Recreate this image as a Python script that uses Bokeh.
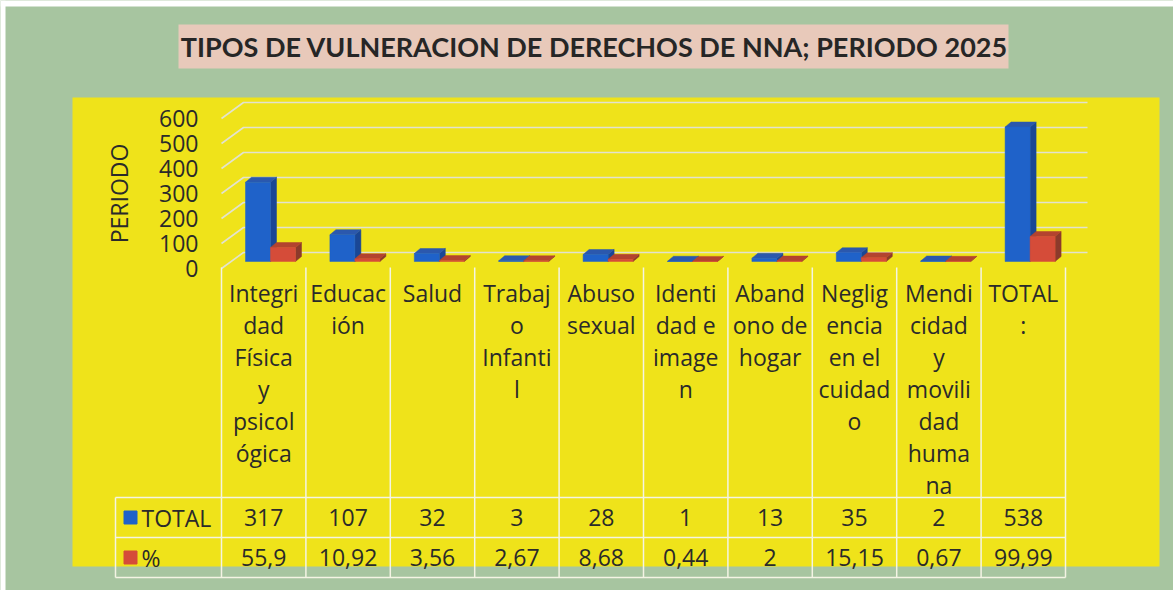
import math
from bokeh.plotting import figure
from bokeh.models import Range1d, BoxAnnotation, Label
from bokeh.core.properties import value
from bokeh.embed import file_html
from bokeh.resources import INLINE

# ---------------- DATA ----------------
title_text = "TIPOS DE VULNERACION DE DERECHOS DE NNA; PERIODO 2025"
y_axis_label = "PERIODO"
categories = [
    "Integri\ndad\nFísica\ny\npsicol\nógica",
    "Educac\nión",
    "Salud",
    "Trabaj\no\nInfanti\nl",
    "Abuso\nsexual",
    "Identi\ndad e\nimage\nn",
    "Aband\nono de\nhogar",
    "Neglig\nencia\nen el\ncuidad\no",
    "Mendi\ncidad\ny\nmovili\ndad\nhuma\nna",
    "TOTAL\n:",
]
series_names = ["TOTAL", "%"]
total_values = [317, 107, 32, 3, 28, 1, 13, 35, 2, 538]
pct_values = [55.9, 10.92, 3.56, 2.67, 8.68, 0.44, 2, 15.15, 0.67, 99.99]
total_labels = ["317", "107", "32", "3", "28", "1", "13", "35", "2", "538"]
pct_labels = ["55,9", "10,92", "3,56", "2,67", "8,68", "0,44", "2", "15,15", "0,67", "99,99"]
y_ticks = [0, 100, 200, 300, 400, 500, 600]

# ---------------- LAYOUT / STYLE ----------------
W, H = 1173, 590
COL0_PX = 221.0        # pixel of first category column edge
COL_W = 84.4           # pixel width of a category column
ZERO_PX = 261.0        # pixel of value 0 (bar mid plane)
PX_PER_UNIT = 0.25
FRONT_OFF = -7 / PX_PER_UNIT
BACK_OFF = 9 / PX_PER_UNIT
BACK_DX = 22 / COL_W
BAR_OFF = [24 / COL_W, 49 / COL_W]
BAR_W = 25 / COL_W
DX = 6 / COL_W
DY = 5 / PX_PER_UNIT

GREEN = "#a7c5a0"
YELLOW = "#efe31a"
PINK = "#e8c9ba"
GRID = "#e2e2cf"
TXT = "#2a2a2a"
FONT = "Open Sans"
FS = "23px"
FRONT = ["#1f62c9", "#d54c39"]
SIDE = ["#1a4795", "#8c3a2b"]
TOP = ["#2b58ad", "#b3432f"]

n = len(categories)
x_start = -COL0_PX / COL_W
x_end = (W - COL0_PX) / COL_W
y_end = ZERO_PX / PX_PER_UNIT
y_start = y_end - H / PX_PER_UNIT

p = figure(width=W, height=H, output_backend="svg", toolbar_location=None,
           x_range=Range1d(x_start, x_end), y_range=Range1d(y_start, y_end),
           x_axis_type=None, y_axis_type=None, min_border=0,
           background_fill_color=GREEN, border_fill_color=GREEN,
           outline_line_color=None)
p.grid.visible = False
p.extra_x_ranges = {"px": Range1d(0, W)}
p.extra_y_ranges = {"px": Range1d(H, 0)}

# white scan edge, yellow chart panel and title box
p.add_layout(BoxAnnotation(left=0, right=W, top=0, bottom=6,
                           x_range_name="px", y_range_name="px",
                           fill_color="white", fill_alpha=1, line_color=None, level="underlay"))
p.add_layout(BoxAnnotation(left=0, right=5, top=0, bottom=H,
                           x_range_name="px", y_range_name="px",
                           fill_color="white", fill_alpha=1, line_color=None, level="underlay"))
p.add_layout(BoxAnnotation(left=72, right=1159, top=97, bottom=566,
                           x_range_name="px", y_range_name="px",
                           fill_color=YELLOW, fill_alpha=1, line_color=None, level="underlay"))
p.add_layout(BoxAnnotation(left=178, right=1008, top=24, bottom=68,
                           x_range_name="px", y_range_name="px",
                           fill_color=PINK, fill_alpha=1, line_color=None, level="underlay"))
p.add_layout(Label(x=594, y=46, x_units="data", y_units="data",
                   x_range_name="px", y_range_name="px", text=title_text,
                   text_align="center", text_baseline="middle",
                   text_font="Lato", text_font_style="bold", text_font_size="27px",
                   text_color="#262626"))

# gridlines (3D wall)
gx, gy = [], []
for v in y_ticks:
    gx.append([0, BACK_DX, n + BACK_DX])
    gy.append([v + FRONT_OFF, v + BACK_OFF, v + BACK_OFF])
p.multi_line(gx, gy, line_color=GRID, line_width=1.6)

# y tick labels
p.text(x=[-23 / COL_W] * len(y_ticks), y=[v + FRONT_OFF for v in y_ticks],
       text=[str(v) for v in y_ticks], text_align="right", text_baseline="middle",
       text_font=value(FONT), text_font_size=FS, text_color=TXT)
# y axis title
p.text(x=[118], y=[193], text=[y_axis_label], angle=math.pi / 2,
       x_range_name="px", y_range_name="px", text_align="center",
       text_baseline="middle", text_font=value(FONT), text_font_size="23px",
       text_color=TXT)

# 3D bars
for s, vals in enumerate([total_values, pct_values]):
    lefts = [i + BAR_OFF[s] for i in range(n)]
    rights = [l + BAR_W for l in lefts]
    side_xs = [[r, r + DX, r + DX, r] for r in rights]
    side_ys = [[0, DY, v + DY, v] for v in vals]
    top_xs = [[l, l + DX, r + DX, r] for l, r in zip(lefts, rights)]
    top_ys = [[v, v + DY, v + DY, v] for v in vals]
    p.patches(side_xs, side_ys, fill_color=SIDE[s], line_color=SIDE[s], line_width=0.5)
    p.patches(top_xs, top_ys, fill_color=TOP[s], line_color=TOP[s], line_width=0.5)
    p.quad(left=lefts, right=rights, bottom=[0] * n, top=vals,
           fill_color=FRONT[s], line_color=FRONT[s], line_width=0.5)

# category labels
p.text(x=[i + 0.5 for i in range(n)], y=[276] * n, y_range_name="px",
       text=categories, text_align="center", text_baseline="top",
       text_line_height=1.0, text_font=value(FONT), text_font_size=FS,
       text_color=TXT)

# data table
TBL_LEFT = (115 - COL0_PX) / COL_W
row_top, row_mid, row_bot = 497, 537, 577
sep_top = 267
vx = [[i, i] for i in range(n + 1)] + [[TBL_LEFT, TBL_LEFT]]
vy = [[sep_top, row_bot] for _ in range(n + 1)] + [[row_top, row_bot]]
hx = [[TBL_LEFT, n]] * 3
hy = [[row_top, row_top], [row_mid, row_mid], [row_bot, row_bot]]
p.multi_line(vx + hx, vy + hy, y_range_name="px", line_color="#f4f4e4", line_width=1.5)

for r, (labels, yc) in enumerate([(total_labels, 517), (pct_labels, 557)]):
    p.text(x=[i + 0.5 for i in range(n)], y=[yc] * n, y_range_name="px",
           text=labels, text_align="center", text_baseline="middle",
           text_font=value(FONT), text_font_size=FS, text_color=TXT)
    p.scatter(x=[(130 - COL0_PX) / COL_W], y=[yc], y_range_name="px", marker="square",
              size=13, fill_color=FRONT[r], line_color=FRONT[r])
    p.text(x=[(141 - COL0_PX) / COL_W], y=[yc], y_range_name="px", text=[series_names[r]],
           text_align="left", text_baseline="middle",
           text_font=value(FONT), text_font_size=FS, text_color=TXT)

open("out.html", "w").write(file_html(p, INLINE))
